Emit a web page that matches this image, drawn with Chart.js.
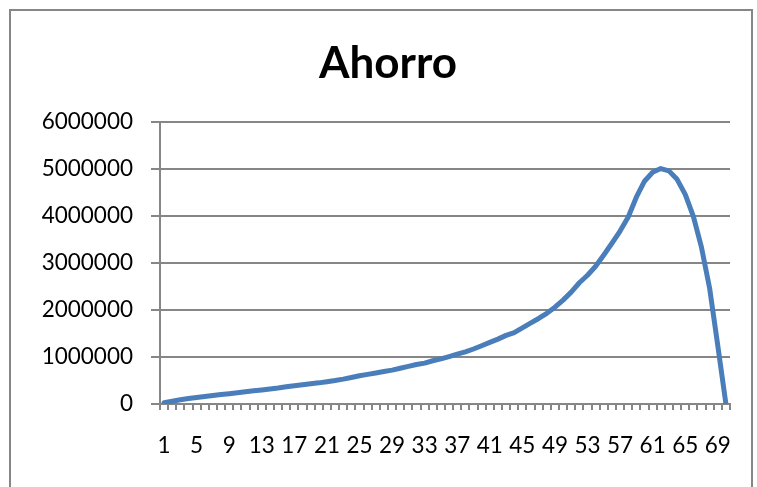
<!DOCTYPE html>
<html>
<head>
<meta charset="utf-8">
<script src="https://cdn.jsdelivr.net/npm/chart.js@4/dist/chart.umd.min.js"></script>
<style>
  html, body { margin: 0; padding: 0; background: #ffffff; }
  #wrap { width: 757px; height: 487px; }
</style>
</head>
<body>
<div id="wrap"><canvas id="c" width="757" height="487"></canvas></div>
<script>
// Periods (years) of the savings plan
const periods = [1,2,3,4,5,6,7,8,9,10,11,12,13,14,15,16,17,18,19,20,
  21,22,23,24,25,26,27,28,29,30,31,32,33,34,35,36,37,38,39,40,
  41,42,43,44,45,46,47,48,49,50,51,52,53,54,55,56,57,58,59,60,
  61,62,63,64,65,66,67,68,69,70];

// Accumulated savings per period
const ahorro = [30000, 60000, 90000, 115000, 140000, 160000, 180000, 200000, 220000, 240000,
  260000, 280000, 300000, 320000, 340000, 365000, 390000, 410000, 430000, 450000,
  475000, 500000, 530000, 565000, 600000, 630000, 660000, 690000, 720000, 760000,
  800000, 840000, 870000, 920000, 960000, 1010000, 1060000, 1110000, 1170000, 1240000,
  1310000, 1380000, 1460000, 1520000, 1620000, 1720000, 1820000, 1930000, 2060000, 2210000,
  2380000, 2580000, 2740000, 2930000, 3170000, 3420000, 3680000, 3980000, 4400000, 4740000,
  4930000, 5010000, 4960000, 4780000, 4460000, 3990000, 3330000, 2460000, 1240000, 0];

// Value axis ticks
const yTicks = [0, 1000000, 2000000, 3000000, 4000000, 5000000, 6000000];

const chartTitle = 'Ahorro';
const axisGrey = '#868686';
const fontFamily = 'Lato, "Open Sans", "Liberation Sans", sans-serif';

// White background, frame around the chart and the title text
const frame = {
  id: 'frame',
  beforeDraw(chart) {
    const ctx = chart.ctx;
    ctx.save();
    ctx.fillStyle = '#ffffff';
    ctx.fillRect(0, 0, chart.width, chart.height);
    ctx.strokeStyle = axisGrey;
    ctx.lineWidth = 2;
    ctx.strokeRect(10, 10, 742, 500);
    ctx.fillStyle = '#000000';
    ctx.font = 'bold 44px ' + fontFamily;
    ctx.textAlign = 'center';
    ctx.textBaseline = 'alphabetic';
    ctx.fillText(chartTitle, 388, 78);
    ctx.restore();
  }
};

new Chart(document.getElementById('c'), {
  type: 'line',
  data: {
    labels: periods,
    datasets: [{
      label: chartTitle,
      data: ahorro,
      borderColor: '#4a7ebb',
      borderWidth: 5,
      pointRadius: 0,
      tension: 0,
      fill: false,
      borderCapStyle: 'round',
      borderJoinStyle: 'round'
    }]
  },
  options: {
    responsive: false,
    animation: false,
    devicePixelRatio: 1,
    layout: { padding: { left: 0, right: 27, top: 122, bottom: 0 } },
    plugins: {
      legend: { display: false },
      tooltip: { enabled: false },
      title: { display: false }
    },
    scales: {
      x: {
        type: 'category',
        offset: true,
        afterFit(scale) { scale.height = 83; },
        grid: {
          offset: true,
          drawOnChartArea: false,
          drawTicks: true,
          tickLength: 6,
          color: axisGrey,
          lineWidth: 2
        },
        border: { display: true, color: axisGrey, width: 2 },
        ticks: {
          autoSkip: false,
          maxRotation: 0,
          minRotation: 0,
          padding: 22,
          color: '#000000',
          font: { family: fontFamily, size: 22.5 },
          callback(value, index) {
            return index % 4 === 0 ? String(periods[index]) : '';
          }
        }
      },
      y: {
        min: 0,
        max: 6000000,
        afterFit(scale) { scale.width = 160; },
        afterBuildTicks(scale) { scale.ticks = yTicks.map(v => ({ value: v })); },
        grid: {
          color: axisGrey,
          lineWidth: 2,
          drawTicks: true,
          tickLength: 9
        },
        border: { display: true, color: axisGrey, width: 2 },
        ticks: {
          padding: 18,
          color: '#000000',
          font: { family: fontFamily, size: 22.5 },
          callback(value) { return String(value); }
        }
      }
    }
  },
  plugins: [frame]
});
</script>
</body>
</html>
